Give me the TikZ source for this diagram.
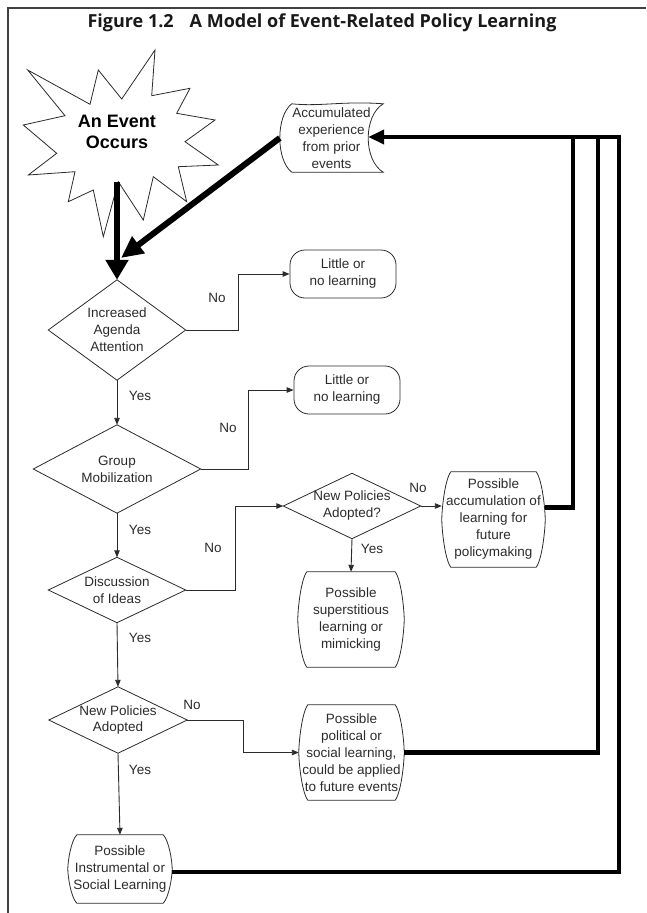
\documentclass[tikz,border=0pt]{standalone}
\usepackage{fontspec}
\setmainfont{Liberation Sans}
\newfontfamily\titlefont{Open Sans}
\usetikzlibrary{arrows.meta,calc}
\definecolor{ink}{HTML}{2B2B2B}
\begin{document}
\begin{tikzpicture}[x=1pt,y=-1pt,
  txt/.style={font=\fontsize{13.5}{17}\selectfont, text=ink, align=center, inner sep=0pt},
  outline/.style={draw=ink, line width=0.8pt},
  thin/.style={draw=ink, line width=0.9pt, -{Triangle[length=7pt,width=5.5pt]}},
  fb/.style={draw=black, line width=4.5pt, line join=miter},
  little/.style={txt, draw=ink, line width=0.8pt, rounded corners=15pt, minimum width=106pt, minimum height=48pt}
]
\useasboundingbox (0,0) rectangle (646,913);
\draw[line width=1.5pt, black!75] (8,913) -- (8,8) -- (646,8);

\node[inner sep=0pt, text=black!90] (title) at (322,23) {\titlefont\bfseries\fontsize{18}{21}\selectfont Figure 1.2\hspace{16pt}A Model of Event-Related Policy Learning};

% starburst
\draw[outline, fill=white] (27.7,70) -- (90,104.3) -- (98.3,70) -- (121.7,99) -- (155,50) -- (151.7,95.7)
  -- (190,88.3) -- (176.7,113.3) -- (215,120) -- (185,141.7) -- (218.3,165) -- (178.3,166.7)
  -- (186.7,201.7) -- (153.3,176.7) -- (143.3,220) -- (118.3,181.7) -- (103.3,236.7) -- (93.3,190)
  -- (68.3,201.7) -- (75,171.7) -- (28.3,175) -- (56.7,153.3) -- (23.3,125) -- (65,115.7) -- cycle;
\node[txt, text=black, font=\bfseries\fontsize{18}{21}\selectfont, minimum height=100pt] (event) at (117,132) {An Event\\Occurs};

% accumulated experience
\node[txt, minimum width=103pt, minimum height=68pt] (accexp) at (331.5,138) {Accumulated\\experience\\from prior\\events};
\draw[outline] ($(accexp.north west)+(12,0)$) .. controls ($(accexp.north west)+(40,3)$) and ($(accexp.north east)+(-40,-3)$) .. (accexp.north east)
  .. controls ($(accexp.north east)+(-20,12)$) and ($(accexp.south east)+(-20,-12)$) .. (accexp.south east)
  -- ($(accexp.south west)+(12,0)$)
  .. controls ($(accexp.south west)+(-4,-12)$) and ($(accexp.north west)+(-4,12)$) .. cycle;

% little boxes
\node[little] (little1) at (343,274) {Little or\\no learning};
\node[little] (little2) at (347,390) {Little or\\no learning};

% diamonds
\node[txt, minimum width=137pt, minimum height=100pt] (d1) at (117,330) {Increased\\Agenda\\Attention};
\node[txt, minimum width=167pt, minimum height=88pt] (d2) at (117,469) {Group\\Mobilization};
\node[txt, minimum width=137pt, minimum height=65pt] (d3) at (117,590) {Discussion\\of Ideas};
\node[txt, minimum width=137pt, minimum height=65pt] (d4) at (352,506) {New Policies\\Adopted?};
\node[txt, minimum width=138pt, minimum height=66pt] (d5) at (118,720) {New Policies\\Adopted};
\foreach \n in {d1,d2,d3,d4,d5}
  \draw[outline] (\n.north) -- (\n.east) -- (\n.south) -- (\n.west) -- cycle;

% barrel boxes
\node[txt, minimum width=103pt, minimum height=95pt] (accum) at (493.5,519.5) {Possible\\accumulation of\\learning for\\future\\policymaking};
\node[txt, minimum width=106pt, minimum height=95pt] (super) at (351,619.5) {Possible\\superstitious\\learning or\\mimicking};
\node[txt, minimum width=105pt, minimum height=95pt] (polit) at (351.5,752.5) {Possible\\political or\\social learning,\\could be applied\\to future events};
\node[txt, minimum width=104pt, minimum height=68pt] (instr) at (120,869) {Possible\\Instrumental or\\Social Learning};
\foreach \n/\k/\c in {accum/10/8,super/10/8,polit/10/8,instr/7/6}
  \draw[outline] ($(\n.north west)+(9,0)$) -- ($(\n.north east)+(-9,0)$)
    .. controls ($(\n.north east)+(-3,\c)$) and ($(\n.east)+(0,-\k)$) .. (\n.east)
    .. controls ($(\n.east)+(0,\k)$) and ($(\n.south east)+(-3,-\c)$) .. ($(\n.south east)+(-9,0)$)
    -- ($(\n.south west)+(9,0)$)
    .. controls ($(\n.south west)+(3,-\c)$) and ($(\n.west)+(0,\k)$) .. (\n.west)
    .. controls ($(\n.west)+(0,-\k)$) and ($(\n.north west)+(3,\c)$) .. cycle;

% thin connectors
\draw[thin] (d1.south) -- (d2.north);
\draw[thin] (d2.south) -- (d3.north);
\draw[thin] (d3.south) -- (d5.north);
\draw[thin] (d5.south) -- (instr.north);
\draw[thin] (d1.east) -- ++(53,0) |- (little1.west);
\draw[thin] (d2.east) -- ++(48,0) |- (little2.west);
\draw[thin] (d3.east) -- ++(50,0) |- (d4.west);
\draw[thin] (d4.east) -- (d4.east -| accum.west);
\draw[thin] (d4.south) -- (super.north);
\draw[thin] (d5.east) -- ++(56,0) |- (polit.west);

% labels
\node[txt] (no1) at (217,298) {No};
\node[txt] (yes1) at (140,396) {Yes};
\node[txt] (no2) at (228,428) {No};
\node[txt] (yes2) at (140,530) {Yes};
\node[txt] (no3) at (213,548) {No};
\node[txt] (no4) at (418,488) {No};
\node[txt] (yes3) at (372,549) {Yes};
\node[txt] (yes4) at (140,638) {Yes};
\node[txt] (no5) at (192,705) {No};
\node[txt] (yes5) at (140,770) {Yes};

% thick arrows
\coordinate (join) at (121,258);
\draw[line width=6pt, -{Triangle[length=20pt,width=22pt]}] (event.south) -- (d1.north);
\draw[line width=6pt, -{Triangle[length=22pt,width=20pt]}] (accexp.west) -- (join);

\coordinate (r1) at (573,137);
\coordinate (r2) at (598,137);
\coordinate (r3) at (619,137);
\draw[fb] ($(accum.east)+(0,-12)$) -| (r1);
\draw[fb] (polit.east) -| (r2);
\draw[fb, -{Triangle[length=16pt,width=14pt]}] ($(instr.east)+(0,3)$) -| (r3) -- ($(accexp.east)+(-15,-1)$);
\end{tikzpicture}
\end{document}
